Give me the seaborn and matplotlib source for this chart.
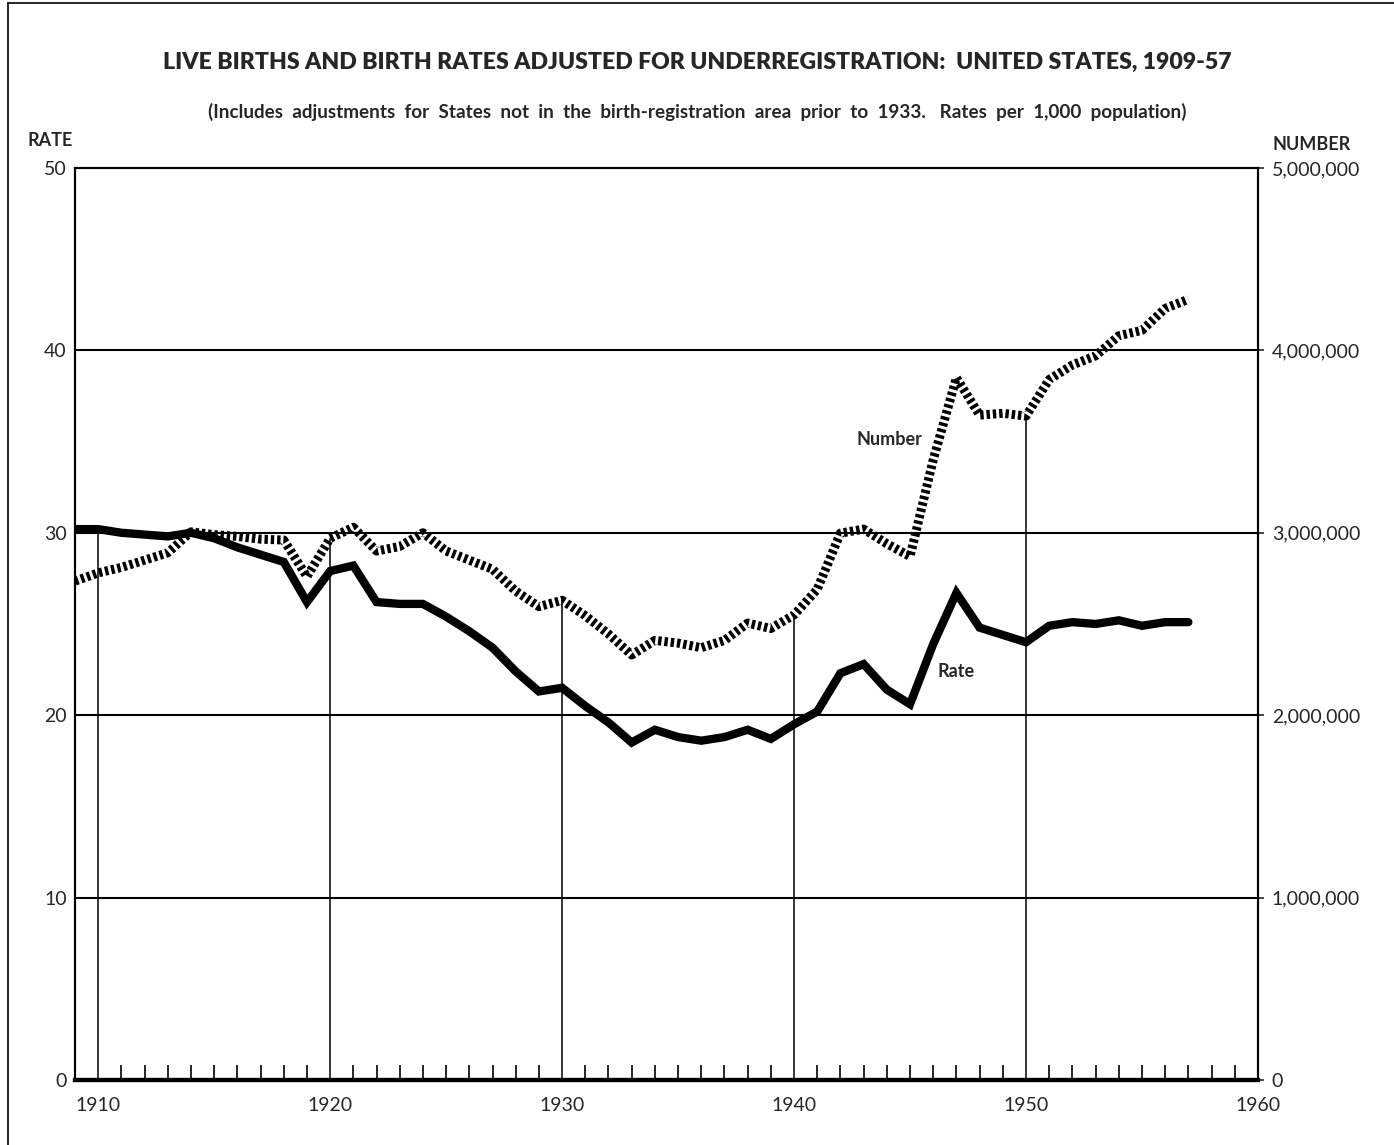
import numpy as np
import pandas as pd
import matplotlib
matplotlib.use('Agg')
from matplotlib import pyplot as plt
from matplotlib.lines import Line2D
import seaborn as sns

years = list(range(1909, 1958))

# birth rate per 1,000 population
rate = [30.2, 30.2, 30.0, 29.9, 29.8, 30.0, 29.7, 29.2, 28.8, 28.4,
        26.2, 27.9, 28.2, 26.2, 26.1, 26.1, 25.4, 24.6, 23.7, 22.4,
        21.3, 21.5, 20.5, 19.6, 18.5, 19.2, 18.8, 18.6, 18.8, 19.2,
        18.7, 19.5, 20.2, 22.3, 22.8, 21.4, 20.6, 23.9, 26.7, 24.8,
        24.4, 24.0, 24.9, 25.1, 25.0, 25.2, 24.9, 25.1, 25.1]

# live births
number = [2735000, 2780000, 2810000, 2850000, 2890000, 3005000, 2990000, 2980000, 2965000, 2960000,
          2760000, 2970000, 3030000, 2900000, 2925000, 3000000, 2900000, 2850000, 2800000, 2680000,
          2595000, 2630000, 2545000, 2445000, 2330000, 2410000, 2395000, 2370000, 2410000, 2505000,
          2475000, 2550000, 2690000, 2998000, 3020000, 2940000, 2870000, 3400000, 3850000, 3645000,
          3655000, 3640000, 3840000, 3920000, 3970000, 4080000, 4110000, 4230000, 4280000]

decades = [1910, 1920, 1930, 1940, 1950]

df = pd.DataFrame({'year': years, 'rate': rate, 'number': number})

sns.set_style('white')
plt.rcParams['font.family'] = ['Lato', 'DejaVu Sans']

fig = plt.figure(figsize=(13.94, 11.45), dpi=100)
ax = fig.add_axes([0.0538, 0.0568, 0.8486, 0.7965])
ax2 = ax.twinx()

ax.set_xlim(1909, 1960)
ax.set_ylim(0, 50)
ax2.set_ylim(0, 5000000)

# horizontal rules
for v in [10, 20, 30, 40]:
    ax.axhline(v, color='black', lw=1.5, zorder=1)

# decade lines, running up to the upper curve
tops = []
for d in decades:
    r = df.loc[df.year == d, 'rate'].iloc[0]
    n = df.loc[df.year == d, 'number'].iloc[0] / 1e5
    tops.append(max(r, n))
ax.vlines(decades, 0, tops, color='black', lw=1.1, zorder=1)

sns.lineplot(data=df, x='year', y='rate', ax=ax, color='black', lw=6,
             solid_joinstyle='miter', zorder=3)
sns.lineplot(data=df, x='year', y='number', ax=ax2, color='black', lw=6.5,
             dashes=False, zorder=3)
ax2.lines[0].set_linestyle((0, (0.38, 0.32)))
ax2.lines[0].set_dash_capstyle('butt')

ax.text(1944.1, 35.1, 'Number', fontsize=13, fontweight='bold', ha='center', va='center')
ax.text(1947.0, 22.4, 'Rate', fontsize=13, fontweight='bold', ha='center', va='center')

# ticks
ax.set_xticks([1910, 1920, 1930, 1940, 1950, 1960])
ax.set_xticklabels(['1910', '1920', '1930', '1940', '1950', '1960'])
ax.set_xticks([y for y in range(1911, 1960) if y % 10 != 0], minor=True)
ax.tick_params(axis='x', which='major', length=0, pad=12, labelsize=14)
ax.tick_params(axis='x', which='minor', direction='in', length=11, width=1.2,
               bottom=True, color='black')
ax.set_yticks([0, 10, 20, 30, 40, 50])
ax.tick_params(axis='y', length=0, pad=6, labelsize=14)
ax2.set_yticks([0, 1000000, 2000000, 3000000, 4000000, 5000000])
ax2.set_yticklabels(['0', '1,000,000', '2,000,000', '3,000,000', '4,000,000', '5,000,000'])
ax2.tick_params(axis='y', direction='out', length=4, width=1.2, pad=6, labelsize=14)
ax.set_xlabel('')
ax.set_ylabel('')
ax2.set_ylabel('')

for a in (ax, ax2):
    for s in a.spines.values():
        s.set_color('black')
        s.set_linewidth(1.5)
    a.spines['bottom'].set_linewidth(3)

fig.text(0.5, 1 - 62 / 1145, 'LIVE BIRTHS AND BIRTH RATES ADJUSTED FOR UNDERREGISTRATION:  UNITED STATES, 1909-57',
         ha='center', va='center', fontsize=16.6, fontweight='heavy')
fig.text(0.5, 1 - 112 / 1145,
         '(Includes  adjustments  for  States  not  in  the  birth-registration  area  prior  to  1933.   Rates  per  1,000  population)',
         ha='center', va='center', fontsize=13.6, fontweight='bold')
fig.text(28 / 1394, 1 - 140 / 1145, 'RATE', ha='left', va='center', fontsize=13, fontweight='bold')
fig.text(1272 / 1394, 1 - 145 / 1145, 'NUMBER', ha='left', va='center', fontsize=13, fontweight='bold')

# page border
fig.add_artist(Line2D([8 / 1394, 8 / 1394], [0, 1 - 3 / 1145], color='black', lw=1.2))
fig.add_artist(Line2D([8 / 1394, 1], [1 - 3 / 1145, 1 - 3 / 1145], color='black', lw=1.2))

fig.savefig('out.png', dpi=100)
